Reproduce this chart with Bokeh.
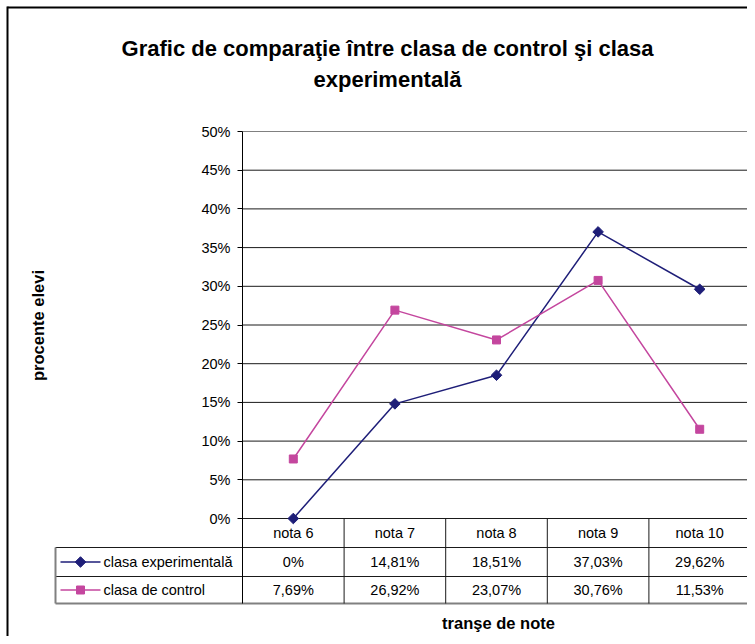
import numpy as np
from bokeh.plotting import figure
from bokeh.models import Range1d, LinearAxis, FixedTicker, PrintfTickFormatter, Label
from bokeh.core.properties import value
from bokeh.embed import file_html
from bokeh.resources import INLINE

# ---------------- data ----------------
title_lines = ["Grafic de comparaţie între clasa de control şi clasa", "experimentală"]
categories = ["nota 6", "nota 7", "nota 8", "nota 9", "nota 10"]
series_names = ["clasa experimentală", "clasa de control"]
exp_values = [0.0, 14.81, 18.51, 37.03, 29.62]
ctrl_values = [7.69, 26.92, 23.07, 30.76, 11.53]
y_ticks = [0, 5, 10, 15, 20, 25, 30, 35, 40, 45, 50]
x_title = "tranşe de note"
y_title = "procente elevi"

# ---------------- layout constants (figure pixels) ----------------
W, H = 747, 636
PLOT_L, PLOT_R = 242, 750
PLOT_T, PLOT_B = 131, 518
ROW_LINES = [518, 547, 576, 603]
TABLE_L = 55
FONT = value("Liberation Sans")
FS = "14.5px"
NAVY = "#1E1E78"
PINK = "#C4469E"
GRID = "#1a1a1a"
GRAY = "#808080"

ncat = len(categories)
ymax = y_ticks[-1]
pxx = (PLOT_R - PLOT_L) / ncat
pxy = (PLOT_B - PLOT_T) / ymax

def dx(px):
    return (px - PLOT_L) / pxx

def dy(py):
    return (PLOT_B - py) / pxy

p = figure(width=W, height=H,
           x_range=Range1d(dx(0), dx(W)),
           y_range=Range1d(dy(H), dy(0)),
           x_axis_type=None, y_axis_type=None,
           min_border=0, toolbar_location=None, output_backend="svg")
p.outline_line_color = None
p.background_fill_color = "white"
p.border_fill_color = "white"
p.xgrid.visible = False
p.ygrid.visible = False

# chart border (left/top visible)
p.segment(x0=[dx(7), dx(7)], y0=[dy(6), dy(7)], x1=[dx(7), dx(W)], y1=[dy(H), dy(7)],
          line_color="black", line_width=2)

# gridlines
inner = [t for t in y_ticks if t != ymax]
p.segment(x0=[0] * len(inner), y0=inner, x1=[ncat] * len(inner), y1=inner,
          line_color=GRID, line_width=1)
p.segment(x0=[0], y0=[ymax], x1=[ncat], y1=[ymax], line_color=GRAY, line_width=1)

# y axis
yaxis = LinearAxis(fixed_location=0, ticker=FixedTicker(ticks=y_ticks),
                   formatter=PrintfTickFormatter(format="%d%%"),
                   bounds=(dy(ROW_LINES[-1]), ymax))
yaxis.axis_line_color = "black"
yaxis.major_tick_line_color = "black"
yaxis.major_tick_out = 5
yaxis.major_tick_in = 0
yaxis.minor_tick_line_color = None
yaxis.major_label_standoff = 7
yaxis.major_label_text_font = "Liberation Sans"
yaxis.major_label_text_font_size = FS
yaxis.major_label_text_color = "black"
p.add_layout(yaxis, "left")

# table lines
p.segment(x0=[dx(TABLE_L)] * 2, y0=[dy(ROW_LINES[1]), dy(ROW_LINES[2])],
          x1=[ncat] * 2, y1=[dy(ROW_LINES[1]), dy(ROW_LINES[2])], line_color=GRID, line_width=1)
p.segment(x0=[dx(TABLE_L)], y0=[dy(ROW_LINES[3])], x1=[ncat], y1=[dy(ROW_LINES[3])],
          line_color=GRAY, line_width=2)
p.segment(x0=[dx(TABLE_L)], y0=[dy(ROW_LINES[1])], x1=[dx(TABLE_L)], y1=[dy(ROW_LINES[3])],
          line_color=GRAY, line_width=2)
vx = list(range(1, ncat))
p.segment(x0=vx, y0=[0] * len(vx), x1=vx, y1=[dy(ROW_LINES[3])] * len(vx), line_color=GRID, line_width=1)
p.segment(x0=[ncat], y0=[ymax], x1=[ncat], y1=[dy(ROW_LINES[3])], line_color=GRAY, line_width=2)

# series
xs = [i + 0.5 for i in range(ncat)]
p.line(xs, exp_values, line_color=NAVY, line_width=1.5)
p.scatter(xs, exp_values, marker="square", angle=np.pi / 4, size=7.5, fill_color=NAVY, line_color=NAVY)
p.line(xs, ctrl_values, line_color=PINK, line_width=1.5)
p.scatter(xs, ctrl_values, marker="square", size=8, fill_color=PINK, line_color=PINK)

# table text
def fmt(v):
    return "0%" if v == 0 else f"{v:.2f}".replace(".", ",") + "%"

row_c = [(ROW_LINES[i] + ROW_LINES[i + 1]) / 2 for i in range(3)]
p.text(x=xs, y=[dy(row_c[0])] * ncat, text=categories, text_font=FONT, text_font_size=FS,
       text_align="center", text_baseline="middle", text_color="black")
p.text(x=xs, y=[dy(row_c[1])] * ncat, text=[fmt(v) for v in exp_values], text_font=FONT,
       text_font_size=FS, text_align="center", text_baseline="middle", text_color="black")
p.text(x=xs, y=[dy(row_c[2])] * ncat, text=[fmt(v) for v in ctrl_values], text_font=FONT,
       text_font_size=FS, text_align="center", text_baseline="middle", text_color="black")

# legend keys in table
for name, col, rc, mk, ang, sz in [(series_names[0], NAVY, row_c[1], "square", np.pi / 4, 7.5),
                                   (series_names[1], PINK, row_c[2], "square", 0, 8)]:
    p.line([dx(60), dx(100)], [dy(rc)] * 2, line_color=col, line_width=1.5)
    p.scatter([dx(80)], [dy(rc)], marker=mk, angle=ang, size=sz, fill_color=col, line_color=col)
    p.add_layout(Label(x=dx(103), y=dy(rc), text=name, text_font="Liberation Sans",
                       text_font_size=FS, text_align="left", text_baseline="middle",
                       text_color="black"))

# titles
for t, yy in zip(title_lines, [48, 79]):
    p.add_layout(Label(x=dx(387), y=dy(yy), text=t, text_font="Liberation Sans",
                       text_font_size="22px", text_font_style="bold", text_align="center",
                       text_baseline="middle", text_color="black"))
p.add_layout(Label(x=dx(498), y=dy(622), text=x_title, text_font="Liberation Sans",
                   text_font_size="16.5px", text_font_style="bold", text_align="center",
                   text_baseline="middle", text_color="black"))
p.add_layout(Label(x=dx(37), y=dy(325), text=y_title, text_font="Liberation Sans",
                   text_font_size="16.5px", text_font_style="bold", text_align="center",
                   text_baseline="middle", angle=np.pi / 2, text_color="black"))

open("out.html", "w").write(file_html(p, INLINE))
